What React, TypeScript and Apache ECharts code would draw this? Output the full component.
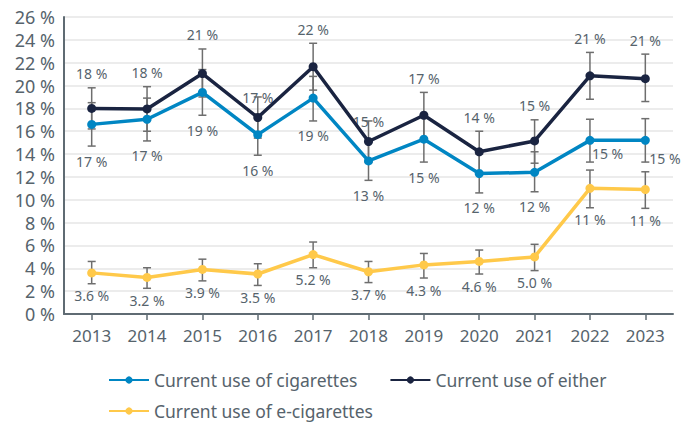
import React, { useEffect, useRef } from "react";
import * as echarts from "echarts";

const years = ["2013", "2014", "2015", "2016", "2017", "2018", "2019", "2020", "2021", "2022", "2023"];

const cigarettes = [16.6, 17.05, 19.4, 15.7, 18.9, 13.4, 15.3, 12.3, 12.4, 15.2, 15.2];
const cigarettesLow = [14.7, 15.15, 17.4, 13.9, 16.9, 11.7, 13.3, 10.6, 10.7, 13.3, 13.3];
const cigarettesHigh = [18.5, 18.9, 21.4, 17.5, 20.8, 15.1, 17.3, 14.0, 14.2, 17.05, 17.1];

const either = [18.0, 17.95, 21.05, 17.2, 21.65, 15.1, 17.4, 14.2, 15.15, 20.85, 20.6];
const eitherLow = [16.2, 16.0, 19.0, 15.4, 19.6, 13.3, 15.4, 12.4, 13.2, 18.8, 18.6];
const eitherHigh = [19.8, 19.9, 23.2, 19.0, 23.7, 16.9, 19.4, 16.0, 17.0, 22.9, 22.75];

const eCigarettes = [3.6, 3.2, 3.9, 3.5, 5.2, 3.7, 4.3, 4.6, 5.0, 11.0, 10.9];
const eCigarettesLow = [2.65, 2.25, 2.9, 2.5, 4.05, 2.75, 3.15, 3.5, 3.8, 9.3, 9.25];
const eCigarettesHigh = [4.6, 4.05, 4.8, 4.4, 6.3, 4.6, 5.3, 5.6, 6.1, 12.6, 12.45];

const yTicks = { min: 0, max: 26, interval: 2 };

const NAME_CIG = "Current use of cigarettes";
const NAME_EITHER = "Current use of either";
const NAME_ECIG = "Current use of e-cigarettes";

const COLOR_CIG = "#0086c3";
const COLOR_EITHER = "#1a2441";
const COLOR_ECIG = "#ffc94a";
const TEXT = "#56636c";
const AXIS = "#5f6b73";
const ERR = "#6e6e6e";
const FONT = '"Noto Sans", sans-serif';

// label placement tweaks (style only)
const eitherNearPoint = [3, 5];
const cigRightSide = [9, 10];

function fmt(v: number) {
  return v >= 10 ? `${Math.round(v)} %` : `${v.toFixed(1)} %`;
}

function errorSeries(
  name: string,
  vals: number[],
  lo: number[],
  hi: number[],
  mode: "above" | "below" | "belowSmall"
) {
  return {
    type: "custom",
    name: name + " CI",
    z: 1,
    clip: false,
    silent: true,
    encode: { x: 0, y: [1, 2, 3] },
    data: years.map((_, i) => [i, lo[i], hi[i], vals[i]]),
    renderItem: (params: any, api: any) => {
      const i = params.dataIndex;
      const x = api.value(0);
      const l = api.value(1);
      const h = api.value(2);
      const v = api.value(3);
      const pL = api.coord([x, l]);
      const pH = api.coord([x, h]);
      const pV = api.coord([x, v]);
      const cap = 4;
      const ls = { stroke: ERR, lineWidth: 1.5 };
      const children: any[] = [
        { type: "line", shape: { x1: pL[0], y1: pL[1], x2: pH[0], y2: pH[1] }, style: ls },
        { type: "line", shape: { x1: pL[0] - cap, y1: pL[1], x2: pL[0] + cap, y2: pL[1] }, style: ls },
        { type: "line", shape: { x1: pH[0] - cap, y1: pH[1], x2: pH[0] + cap, y2: pH[1] }, style: ls },
      ];
      let tx = pV[0];
      let ty = 0;
      let align = "center";
      let vAlign = "bottom";
      if (mode === "above") {
        if (eitherNearPoint.includes(i)) {
          ty = pV[1] - 13;
        } else {
          ty = pH[1] - 7;
        }
      } else if (mode === "below") {
        if (cigRightSide.includes(i)) {
          tx = pV[0] + (i === 9 ? 2 : 4);
          ty = pV[1] + (i === 9 ? 6 : 11);
          align = "left";
          vAlign = "top";
        } else {
          ty = pL[1] + 8;
          vAlign = "top";
        }
      } else {
        ty = pL[1] + 5;
        vAlign = "top";
      }
      children.push({
        type: "text",
        x: tx,
        y: ty,
        style: {
          text: fmt(v),
          fill: TEXT,
          font: `14px ${FONT}`,
          align,
          verticalAlign: vAlign,
        },
      });
      return { type: "group", children };
    },
  };
}

function lineSeries(name: string, data: number[], color: string) {
  return {
    type: "line",
    name,
    data,
    z: 3,
    symbol: "circle",
    symbolSize: 9,
    itemStyle: { color },
    lineStyle: { color, width: 3.5 },
    label: { show: false },
  };
}

export default function App() {
  const ref = useRef<HTMLDivElement>(null);
  useEffect(() => {
    if (!ref.current) return;
    const chart = echarts.init(ref.current, undefined, { renderer: "svg" });
    const legendCommon = {
      left: 103,
      itemWidth: 40,
      itemHeight: 9,
      itemGap: 32,
      textStyle: { fontSize: 17.5, color: TEXT, fontFamily: FONT },
    };
    chart.setOption({
      animation: false,
      grid: { left: 64, right: 24, top: 17, bottom: 109 },
      legend: [
        { ...legendCommon, top: 366, data: [NAME_CIG, NAME_EITHER] },
        { ...legendCommon, top: 397, data: [NAME_ECIG] },
      ],
      xAxis: {
        type: "category",
        data: years,
        boundaryGap: true,
        axisLine: { lineStyle: { color: AXIS, width: 2 } },
        axisTick: { show: true, alignWithLabel: true, length: 6, lineStyle: { color: AXIS, width: 1.5 } },
        axisLabel: { color: TEXT, fontSize: 17, fontFamily: FONT, margin: 13 },
        splitLine: { show: false },
      },
      yAxis: {
        type: "value",
        min: yTicks.min,
        max: yTicks.max,
        interval: yTicks.interval,
        axisLine: { show: true, lineStyle: { color: AXIS, width: 2 } },
        axisTick: { show: false },
        axisLabel: { color: TEXT, fontSize: 18, fontFamily: FONT, margin: 9, formatter: (v: number) => `${v} %` },
        splitLine: { show: true, lineStyle: { color: "#e6e6e6", width: 1.5 } },
      },
      series: [
        errorSeries(NAME_CIG, cigarettes, cigarettesLow, cigarettesHigh, "below"),
        errorSeries(NAME_EITHER, either, eitherLow, eitherHigh, "above"),
        errorSeries(NAME_ECIG, eCigarettes, eCigarettesLow, eCigarettesHigh, "belowSmall"),
        lineSeries(NAME_CIG, cigarettes, COLOR_CIG),
        lineSeries(NAME_EITHER, either, COLOR_EITHER),
        lineSeries(NAME_ECIG, eCigarettes, COLOR_ECIG),
      ],
    });
    return () => chart.dispose();
  }, []);
  return <div ref={ref} style={{ width: 697, height: 423, position: "absolute", left: 0, top: 0 }} />;
}
